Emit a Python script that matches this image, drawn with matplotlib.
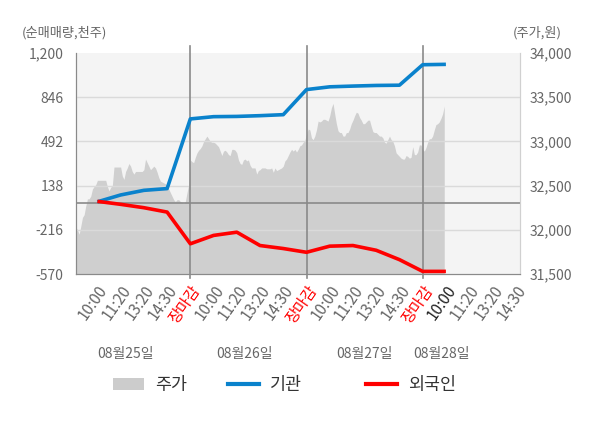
import matplotlib
matplotlib.use("Agg")
import matplotlib.pyplot as plt
import numpy as np
from matplotlib.lines import Line2D
from matplotlib.patches import Patch

plt.rcParams["font.family"] = ["Noto Sans CJK KR", "DejaVu Sans"]

# x axis: one unit per label, five labels per trading day
TICK_LABELS = ["10:00", "11:20", "13:20", "14:30", "장마감"] * 3 + ["10:00", "11:20", "13:20", "14:30"]
DATE_LABELS = ["08월25일", "08월26일", "08월27일", "08월28일"]
DATE_POS = [2.2, 7.35, 12.5, 15.8]
DAY_BOUNDS = [5, 10, 15]

# net buying, thousand shares, read at each label position 1..16
inst = [8, 63, 100, 114, 672, 690, 692, 698, 706, 907, 929, 935, 940, 942, 1106, 1109]
foreign = [12, -12, -39, -74, -328, -261, -235, -342, -366, -396, -347, -342, -380, -455, -549, -549]

# share price (won), 70 samples per day, last day partial
price_d1 = [32060, 32030, 32000, 31950, 32040, 32140, 32170, 32270, 32350, 32350,
            32380, 32460, 32490, 32510, 32560, 32560, 32560, 32560, 32560, 32560,
            32490, 32440, 32480, 32500, 32710, 32710, 32710, 32710, 32710, 32610,
            32570, 32660, 32700, 32750, 32720, 32660, 32630, 32660, 32660, 32660,
            32660, 32660, 32680, 32800, 32760, 32720, 32680, 32700, 32720, 32700,
            32650, 32590, 32550, 32540, 32530, 32520, 32500, 32460, 32420, 32380,
            32340, 32320, 32340, 32340, 32320, 32310, 32300, 32320, 32420, 32510]
price_d2 = [32790, 32770, 32760, 32820, 32870, 32900, 32920, 32950, 33000, 33030,
            33060, 33030, 33000, 32990, 32990, 32980, 32960, 32940, 32890, 32840,
            32890, 32900, 32880, 32850, 32840, 32910, 32910, 32900, 32870, 32790,
            32750, 32740, 32790, 32800, 32780, 32790, 32730, 32700, 32700, 32700,
            32630, 32670, 32680, 32700, 32700, 32700, 32690, 32690, 32690, 32700,
            32650, 32700, 32670, 32680, 32690, 32700, 32720, 32780, 32800, 32840,
            32880, 32910, 32890, 32910, 32880, 32910, 32950, 32960, 32990, 33010]
price_d3 = [33080, 33140, 33130, 33040, 33020, 33060, 33130, 33230, 33220, 33230,
            33250, 33250, 33240, 33230, 33290, 33380, 33430, 33310, 33200, 33120,
            33100, 33100, 33060, 33060, 33100, 33100, 33140, 33200, 33240, 33290,
            33330, 33320, 33270, 33240, 33200, 33200, 33220, 33240, 33240, 33170,
            33110, 33100, 33100, 33080, 33060, 33060, 33040, 32990, 32980, 33020,
            33060, 33020, 33000, 32950, 32870, 32850, 32830, 32810, 32800, 32800,
            32840, 32830, 32810, 32820, 32940, 32850, 32850, 32880, 32960, 32960]
price_d4 = [32910, 32890, 32930, 32990, 33030, 33030, 33060, 33130, 33190, 33200,
            33220, 33260, 33310, 33400]

BLUE = "#0a82cc"
RED = "#ff0000"
FILL = "#cfcfcf"
TXT = "#666666"

fig = plt.figure(figsize=(6, 4.28), dpi=100)
ax = fig.add_axes([0.1267, 0.3598, 0.74, 0.5164])
ax.set_facecolor("#f4f4f4")
ax2 = ax.twinx()

# price area on the main axes, scale on the right
px, py = [], []
for d, day in enumerate([price_d1, price_d2, price_d3, price_d4]):
    px.extend(5 * d + np.arange(len(day)) * 5 / 70)
    py.extend(day)
ax.fill_between(px, py, 31500, color=FILL, linewidth=0)
ax.set_ylim(31500, 34000)
ax.set_yticks([31500, 32000, 32500, 33000, 33500, 34000])
ax.set_yticklabels(["31,500", "32,000", "32,500", "33,000", "33,500", "34,000"])
ax.yaxis.tick_right()
ax.tick_params(axis="y", length=0, pad=7, labelsize=10, labelcolor=TXT)

# net buying lines on the twin, scale on the left
ax2.yaxis.tick_left()
ax2.set_ylim(-570, 1200)
left_ticks = [-570, -216, 138, 492, 846, 1200]
ax2.set_yticks(left_ticks)
ax2.set_yticklabels(["-570", "-216", "138", "492", "846", "1,200"])
ax2.tick_params(axis="y", length=0, pad=9, labelsize=10, labelcolor=TXT)
for v in left_ticks[1:-1]:
    ax2.axhline(v, color="#dadada", lw=1, zorder=1)
ax2.axhline(0, color="#8a8a8a", lw=1.2, zorder=2)
for b in DAY_BOUNDS:
    ax2.axvline(b, ymin=-0.02, ymax=1.03, color="#8a8a8a", lw=1.2, clip_on=False, zorder=2)

xs = np.arange(1, len(inst) + 1)
ax2.plot(xs, inst, color=BLUE, lw=2.6, zorder=4, solid_capstyle="butt")
ax2.plot(xs, foreign, color=RED, lw=2.6, zorder=4, solid_capstyle="butt")

for a in (ax, ax2):
    a.set_xlim(0.08, 19.19)
    a.spines["top"].set_visible(False)
    a.spines["left"].set_color("#8a8a8a")
    a.spines["bottom"].set_color("#8a8a8a")
    a.spines["right"].set_color("#d0d0d0")

ax.set_xticks(np.arange(1, len(TICK_LABELS) + 1))
ax.set_xticklabels(TICK_LABELS, rotation=55, ha="right", rotation_mode="anchor", fontsize=11)
ax.tick_params(axis="x", length=0, pad=6)
for i, t in enumerate(ax.get_xticklabels()):
    if t.get_text() == "장마감":
        t.set_color(RED)
    elif i == 15:
        t.set_color("#222222")
    else:
        t.set_color(TXT)

for pos, lab in zip(DATE_POS, DATE_LABELS):
    ax.text(pos, -0.36, lab, transform=ax.get_xaxis_transform(), ha="center", va="center",
            fontsize=10, color=TXT)

fig.text(22 / 600, 1 - 33 / 428, "(순매매량,천주)", ha="left", va="center", fontsize=9.5, color=TXT)
fig.text(562 / 600, 1 - 33 / 428, "(주가,원)", ha="right", va="center", fontsize=9.5, color=TXT)

handles = [
    (Patch(facecolor="#cccccc", edgecolor="none"), "주가", 113),
    (Line2D([], [], color=BLUE, lw=3), "기관", 228),
    (Line2D([], [], color=RED, lw=3), "외국인", 366),
]
for h, lab, x0 in handles:
    fig.legend([h], [lab], loc="center left", bbox_to_anchor=(x0 / 600, 1 - 385 / 428),
               frameon=False, fontsize=12.5, handlelength=1.8, handletextpad=0.6,
               borderpad=0, borderaxespad=0, labelcolor="#333333")

fig.savefig("out.png", dpi=100, facecolor="white")
